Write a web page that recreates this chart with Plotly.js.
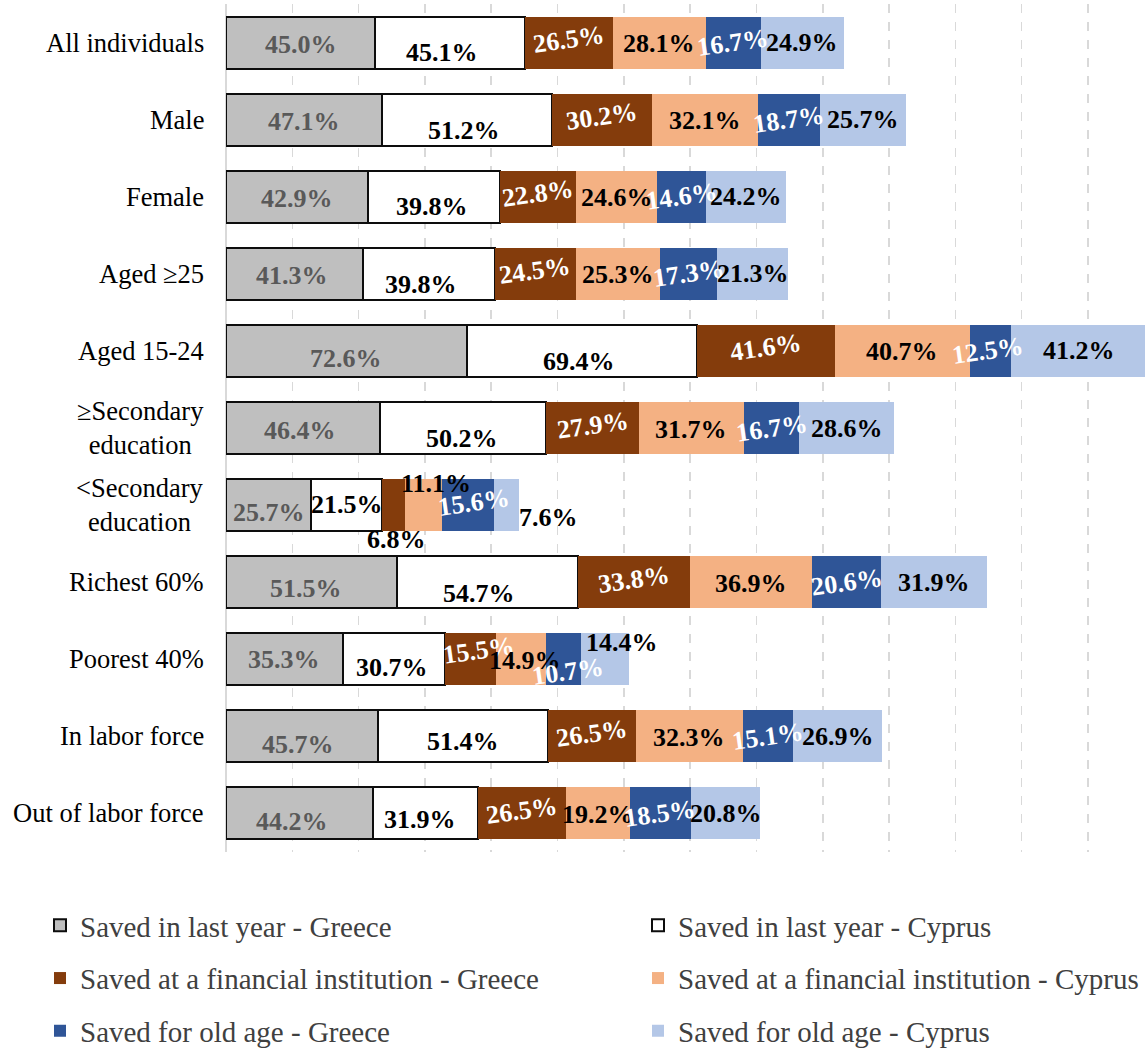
<!DOCTYPE html>
<html>
<head>
<meta charset="utf-8">
<script src="https://cdn.plot.ly/plotly-3.0.1.min.js"></script>
<style>html,body{margin:0;padding:0;background:#ffffff;}</style>
</head>
<body>
<div id="chart" style="width:1145px;height:1049px;"></div>
<script>
// Population groups, top to bottom
const categories = [
  'All individuals', 'Male', 'Female', 'Aged ≥25', 'Aged 15-24',
  '≥Secondary<br>education', '&lt;Secondary<br>education',
  'Richest 60%', 'Poorest 40%', 'In labor force', 'Out of labor force'
];

// Share of adults (%) per group
const savedGreece  = [45.0, 47.1, 42.9, 41.3, 72.6, 46.4, 25.7, 51.5, 35.3, 45.7, 44.2];
const savedCyprus  = [45.1, 51.2, 39.8, 39.8, 69.4, 50.2, 21.5, 54.7, 30.7, 51.4, 31.9];
const finGreece    = [26.5, 30.2, 22.8, 24.5, 41.6, 27.9,  6.8, 33.8, 15.5, 26.5, 26.5];
const finCyprus    = [28.1, 32.1, 24.6, 25.3, 40.7, 31.7, 11.1, 36.9, 14.9, 32.3, 19.2];
const oldAgeGreece = [16.7, 18.7, 14.6, 17.3, 12.5, 16.7, 15.6, 20.6, 10.7, 15.1, 18.5];
const oldAgeCyprus = [24.9, 25.7, 24.2, 21.3, 41.2, 28.6,  7.6, 31.9, 14.4, 26.9, 20.8];

const seriesNames = [
  'Saved in last year - Greece', 'Saved in last year - Cyprus',
  'Saved at a financial institution - Greece', 'Saved at a financial institution - Cyprus',
  'Saved for old age - Greece', 'Saved for old age - Cyprus'
];
const seriesValues = [savedGreece, savedCyprus, finGreece, finCyprus, oldAgeGreece, oldAgeCyprus];

// Look of each series
const styles = [
  {fill: '#BFBFBF', line: '#0D0D0D', lw: 2, txt: '#595959', angle: 0,  legend: 'legend'},
  {fill: '#FFFFFF', line: '#0D0D0D', lw: 2, txt: '#000000', angle: 0,  legend: 'legend2'},
  {fill: '#843C0C', line: '#843C0C', lw: 0, txt: '#FFFFFF', angle: -8, legend: 'legend'},
  {fill: '#F4B183', line: '#F4B183', lw: 0, txt: '#000000', angle: 0,  legend: 'legend2'},
  {fill: '#2F5597', line: '#2F5597', lw: 0, txt: '#FFFFFF', angle: -8, legend: 'legend'},
  {fill: '#B4C7E7', line: '#B4C7E7', lw: 0, txt: '#000000', angle: 0,  legend: 'legend2'}
];

// Label nudges in pixels [dx, dy] (dy downward), per series and group
const nudges = [
  [[0,2],[0,2],[0,2],[-2,2],[0,8],[-3,2],[0,7],[-5,6],[-1,0],[-4,8],[-7,8]],
  [[-8,10],[-3,11],[-2,10],[-8,11],[-3,11],[-1,10],[0,-1],[-8,11],[-2,8],[0,5],[-5,6]],
  [[0,-3],[0,-3],[0,-3],[0,-3],[0,-3],[0,-3],[3,34],[0,-3],[8,-9],[0,-3],[0,-3]],
  [[0,1],[0,1],[0,1],[0,1],[0,1],[0,1],[13,-22],[0,1],[4,1],[0,1],[0,1]],
  [[0,0],[0,0],[0,0],[0,0],[-2,0],[0,0],[6,-3],[0,0],[5,12],[0,0],[0,0]],
  [[0,0],[0,0],[0,0],[0,0],[0,0],[0,0],[42,12],[0,0],[17,-17],[0,0],[0,0]]
];

// Labels set outside their narrow segment are drawn in black and upright
const outsideLabels = {'2,6': true};

const traces = seriesValues.map((vals, s) => ({
  type: 'bar',
  orientation: 'h',
  name: seriesNames[s],
  x: vals,
  y: categories,
  legend: styles[s].legend,
  legendgroup: 'g' + s,
  marker: {color: styles[s].fill, line: {color: styles[s].line, width: styles[s].lw}},
  hoverinfo: 'none'
}));

const annotations = [];

// Value labels at the middle of each stacked segment
categories.forEach((cat, i) => {
  let start = 0;
  seriesValues.forEach((vals, s) => {
    const v = vals[i];
    const nd = nudges[s][i];
    const outside = outsideLabels[s + ',' + i];
    annotations.push({
      x: start + v / 2, y: cat, xref: 'x', yref: 'y',
      text: v.toFixed(1) + '%',
      showarrow: false,
      xanchor: 'center', yanchor: 'middle',
      xshift: nd[0], yshift: -nd[1],
      textangle: outside ? 0 : styles[s].angle,
      font: {family: 'Liberation Serif', size: 26, weight: 'bold',
             color: outside ? '#000000' : styles[s].txt}
    });
    start += v;
  });
});

// Group names to the left of the bars
categories.forEach(cat => {
  annotations.push({
    x: 0, y: cat, xref: 'paper', yref: 'y',
    text: cat, showarrow: false,
    xanchor: 'right', yanchor: 'middle', align: 'center',
    xshift: -20,
    font: {family: 'Liberation Serif', size: 26.5, color: '#000000'}
  });
});

const legendBase = {
  orientation: 'v',
  xref: 'container', yref: 'container',
  xanchor: 'left', yanchor: 'top',
  traceorder: 'grouped',
  tracegroupgap: 12,
  bgcolor: 'rgba(0,0,0,0)',
  font: {family: 'Liberation Serif', size: 29, color: '#404040'}
};

const layout = {
  width: 1145, height: 1049,
  margin: {l: 226, r: 0, t: 4, b: 197, autoexpand: false},
  paper_bgcolor: '#FFFFFF', plot_bgcolor: '#FFFFFF',
  barmode: 'stack',
  bargap: 0.325,
  showlegend: true,
  xaxis: {
    range: [0, 277.2], tick0: 0, dtick: 20,
    showgrid: true, gridcolor: '#D9D9D9', gridwidth: 1.5, griddash: 'dash',
    showticklabels: false, ticks: '',
    zeroline: true, zerolinecolor: '#D9D9D9', zerolinewidth: 1.5,
    showline: false, fixedrange: true
  },
  yaxis: {
    type: 'category', autorange: 'reversed',
    showticklabels: false, showgrid: false, ticks: '',
    zeroline: false, showline: false, fixedrange: true
  },
  legend: Object.assign({}, legendBase, {x: 40 / 1145, y: 1 - 900 / 1049}),
  legend2: Object.assign({}, legendBase, {x: 638 / 1145, y: 1 - 900 / 1049}),
  annotations: annotations
};

Plotly.newPlot('chart', traces, layout, {displayModeBar: false, staticPlot: true});
</script>
</body>
</html>
